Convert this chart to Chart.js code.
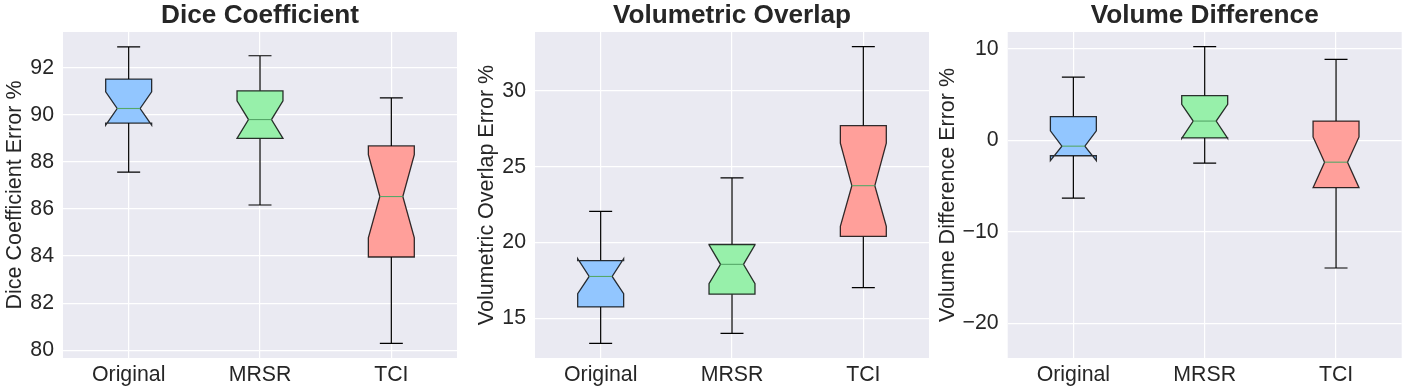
<!DOCTYPE html>
<html><head><meta charset="utf-8">
<script src="https://cdn.jsdelivr.net/npm/chart.js@4.4.1/dist/chart.umd.min.js"></script>
<style>
html,body{margin:0;padding:0;background:#fff;width:1409px;height:392px;overflow:hidden;}
.p{position:absolute;top:0;height:392px;}
canvas{display:block;}
</style></head><body>
<div class="p" style="left:0px;width:470px"><canvas id="c1" width="470" height="392"></canvas></div>
<div class="p" style="left:472px;width:470px"><canvas id="c2" width="470" height="392"></canvas></div>
<div class="p" style="left:933px;width:476px"><canvas id="c3" width="476" height="392"></canvas></div>
<script>
const categories = ['Original', 'MRSR', 'TCI'];
const boxColors = ['#92C6FF', '#97F0AA', '#FF9F9A'];

// Dice Coefficient
const diceWhiskerLow  = [87.57, 86.17, 80.29];
const diceQ1          = [89.65, 89.00, 83.96];
const diceNotchLow    = [89.56, 89.00, 84.78];
const diceMedian      = [90.27, 89.80, 86.53];
const diceNotchHigh   = [90.98, 90.60, 88.31];
const diceQ3          = [91.52, 91.02, 88.68];
const diceWhiskerHigh = [92.89, 92.51, 90.72];
const diceTicks = [80, 82, 84, 86, 88, 90, 92];
const diceRange = [79.67, 93.52];

// Volumetric Overlap
const volWhiskerLow  = [13.35, 14.01, 17.03];
const volQ1          = [15.75, 16.59, 20.40];
const volNotchLow    = [16.63, 17.29, 21.06];
const volMedian      = [17.76, 18.56, 23.75];
const volNotchHigh   = [18.93, 19.85, 26.55];
const volQ3          = [18.81, 19.87, 27.71];
const volWhiskerHigh = [22.05, 24.26, 32.92];
const volTicks = [15, 20, 25, 30];
const volRange = [12.38, 33.89];

// Volume Difference
const vdWhiskerLow  = [-6.33, -2.51, -13.96];
const vdQ1          = [-1.70, 0.25, -5.19];
const vdNotchLow    = [-2.23, 0.21, -5.19];
const vdMedian      = [-0.65, 2.09, -2.40];
const vdNotchHigh   = [1.02, 3.91, 0.36];
const vdQ3          = [2.58, 4.87, 2.09];
const vdWhiskerHigh = [6.88, 10.22, 8.84];
const vdTicks = [-20, -10, 0, 10];
const vdRange = [-23.79, 11.82];

const FONT = "'Liberation Sans', Arial, Helvetica, sans-serif";
const TXT = '#262626';

function makeBoxPlugin(st) {
  return {
    id: 'notchBox',
    beforeDraw(chart) {
      const {ctx, chartArea: a} = chart;
      ctx.save();
      ctx.fillStyle = '#EAEAF2';
      ctx.fillRect(a.left, a.top, a.right - a.left, a.bottom - a.top);
      ctx.restore();
    },
    afterDatasetsDraw(chart) {
      const ctx = chart.ctx;
      const xs = chart.scales.x, ys = chart.scales.y;
      const unit = xs.getPixelForValue(1) - xs.getPixelForValue(0);
      const hw = unit * 0.35 / 2;
      const nw = hw / 2;
      const Y = v => ys.getPixelForValue(v);
      ctx.save();
      for (let i = 0; i < categories.length; i++) {
        const cx = xs.getPixelForValue(i);
        const L = cx - hw, R = cx + hw;
        // whiskers and caps
        ctx.strokeStyle = '#000';
        ctx.lineWidth = 1.2;
        ctx.beginPath();
        ctx.moveTo(cx, Y(st.q1[i])); ctx.lineTo(cx, Y(st.wl[i]));
        ctx.moveTo(cx, Y(st.q3[i])); ctx.lineTo(cx, Y(st.wh[i]));
        ctx.moveTo(cx - nw, Y(st.wl[i])); ctx.lineTo(cx + nw, Y(st.wl[i]));
        ctx.moveTo(cx - nw, Y(st.wh[i])); ctx.lineTo(cx + nw, Y(st.wh[i]));
        ctx.stroke();
        // notched box
        ctx.beginPath();
        ctx.moveTo(L, Y(st.q1[i]));
        ctx.lineTo(L, Y(st.nl[i]));
        ctx.lineTo(cx - nw, Y(st.med[i]));
        ctx.lineTo(L, Y(st.nh[i]));
        ctx.lineTo(L, Y(st.q3[i]));
        ctx.lineTo(R, Y(st.q3[i]));
        ctx.lineTo(R, Y(st.nh[i]));
        ctx.lineTo(cx + nw, Y(st.med[i]));
        ctx.lineTo(R, Y(st.nl[i]));
        ctx.lineTo(R, Y(st.q1[i]));
        ctx.closePath();
        ctx.fillStyle = boxColors[i];
        ctx.fill();
        ctx.strokeStyle = 'rgba(0,0,0,0.8)';
        ctx.lineWidth = 1.3;
        ctx.lineJoin = 'miter';
        ctx.stroke();
        // median
        ctx.strokeStyle = '#55A868';
        ctx.lineWidth = 1.1;
        ctx.beginPath();
        ctx.moveTo(cx - nw, Y(st.med[i])); ctx.lineTo(cx + nw, Y(st.med[i]));
        ctx.stroke();
      }
      ctx.restore();
    }
  };
}

const fmt = v => (v < 0 ? '\u2212' + Math.abs(v) : String(v));

function makeChart(id, title, yLabel, st, ticks, range, yWidth, rightPad) {
  return new Chart(document.getElementById(id), {
    type: 'line',
    data: { labels: categories, datasets: [] },
    options: {
      responsive: false,
      devicePixelRatio: 1,
      animation: false,
      events: [],
      layout: { padding: { left: 0, right: rightPad, top: 0, bottom: 0 } },
      plugins: {
        legend: { display: false },
        tooltip: { enabled: false },
        title: {
          display: true, text: title, fullSize: false, color: TXT,
          font: { family: FONT, size: 26.2, weight: 'bold', lineHeight: 32 / 26.2 },
          padding: 0
        }
      },
      scales: {
        x: {
          type: 'category', offset: true,
          grid: { offset: false, color: '#ffffff', lineWidth: 1.2, drawTicks: false },
          border: { display: false },
          ticks: { color: TXT, font: { family: FONT, size: 21.3 }, padding: 4, maxRotation: 0 },
          afterFit(s) { s.height = 34; }
        },
        y: {
          type: 'linear', min: range[0], max: range[1],
          grid: { color: '#ffffff', lineWidth: 1.2, drawTicks: false },
          border: { display: false },
          ticks: { color: TXT, font: { family: FONT, size: 21.3 }, padding: 9, callback: v => fmt(v) },
          afterBuildTicks(s) { s.ticks = ticks.map(v => ({ value: v })); },
          afterFit(s) { s.width = yWidth; },
          title: { display: true, text: yLabel, color: TXT, font: { family: FONT, size: 21.5, lineHeight: 1.2 }, padding: { top: 2, bottom: 0 } }
        }
      }
    },
    plugins: [makeBoxPlugin(st)]
  });
}

makeChart('c1', 'Dice Coefficient', 'Dice Coefficient Error %',
  { wl: diceWhiskerLow, q1: diceQ1, nl: diceNotchLow, med: diceMedian, nh: diceNotchHigh, q3: diceQ3, wh: diceWhiskerHigh },
  diceTicks, diceRange, 63, 13);
makeChart('c2', 'Volumetric Overlap', 'Volumetric Overlap Error %',
  { wl: volWhiskerLow, q1: volQ1, nl: volNotchLow, med: volMedian, nh: volNotchHigh, q3: volQ3, wh: volWhiskerHigh },
  volTicks, volRange, 63, 13);
makeChart('c3', 'Volume Difference', 'Volume Difference Error %',
  { wl: vdWhiskerLow, q1: vdQ1, nl: vdNotchLow, med: vdMedian, nh: vdNotchHigh, q3: vdQ3, wh: vdWhiskerHigh },
  vdTicks, vdRange, 74.7, 7.3);
</script>
</body></html>
